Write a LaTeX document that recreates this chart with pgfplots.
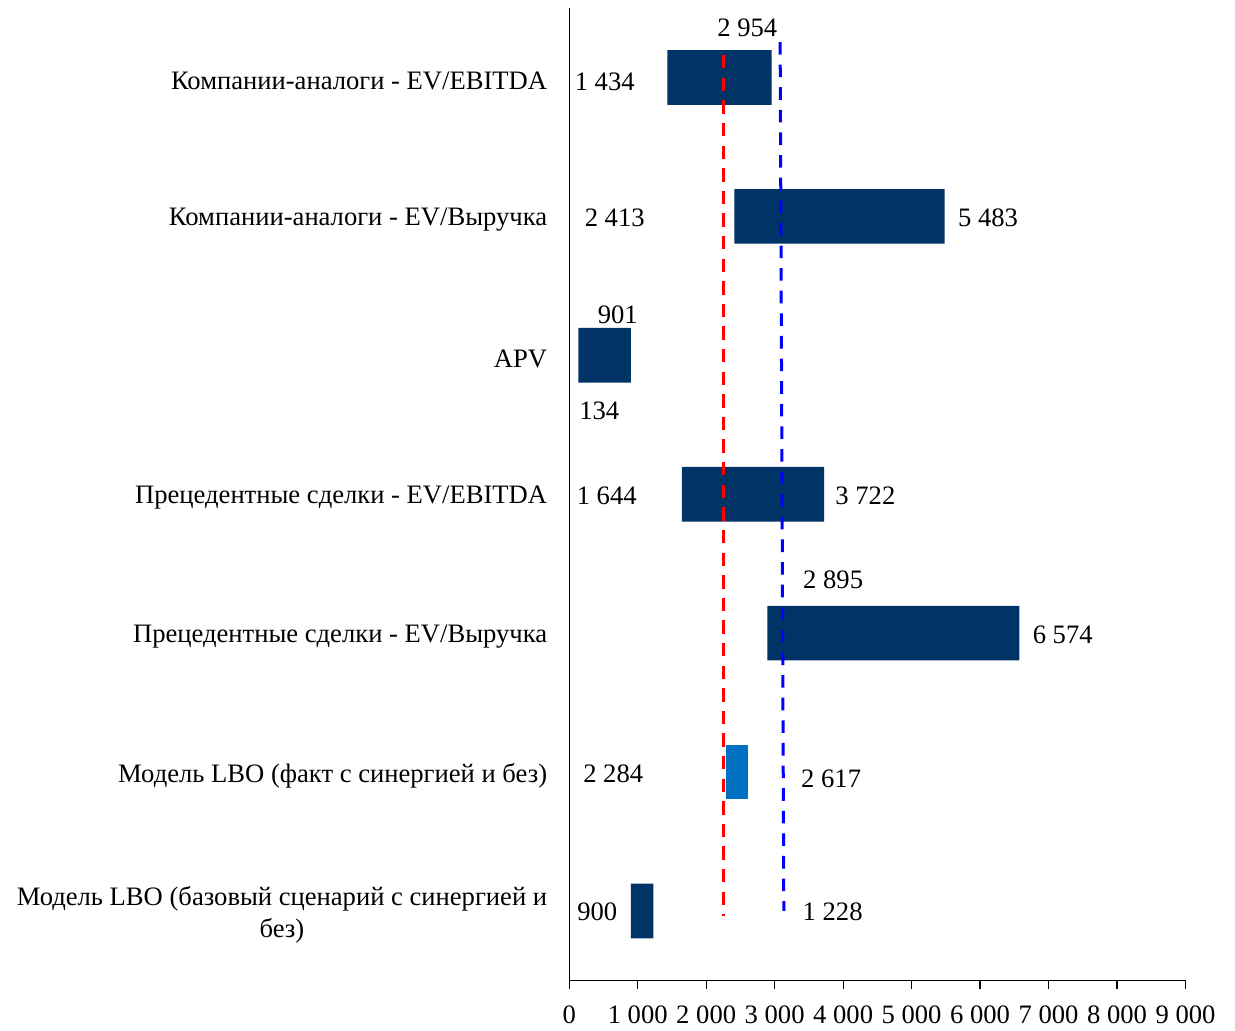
\documentclass[border=0pt]{standalone}
\usepackage{pgfplots}
\pgfplotsset{compat=1.18}
\usepackage{pgfplotstable}
\usepackage{fontspec}
\setmainfont{Liberation Serif}

\newcommand\fs{\fontsize{13.3}{16}\selectfont}

\definecolor{navy}{RGB}{0,51,102}
\definecolor{lbo}{RGB}{0,112,192}

% valuation ranges: y position (top = 6), low, high, flag for the LBO-fact bar
\pgfplotstableread{
y  low   high  lbo
6  1434  2954  0
5  2413  5483  0
4  134   901   0
3  1644  3722  0
2  2895  6574  0
1  2284  2617  1
0  900   1228  0
}\ranges

\begin{document}
\begin{tikzpicture}[lbl/.style={font=\fs, inner sep=0pt}]
\begin{axis}[
  name=ax,
  scale only axis,
  width=308pt, height=486pt,
  xmin=0, xmax=9000, ymin=-0.5, ymax=6.5,
  xbar stacked, bar width=27.35pt,
  axis x line*=bottom, axis y line*=left,
  axis line style={line width=0.6pt, black},
  xtick={0,1000,...,9000},
  tick align=outside, major tick length=4.5pt,
  x tick style={line width=0.6pt, black},
  ytick={0,...,6},
  ytick style={draw=none},
  yticklabels={{Модель LBO (базовый сценарий с синергией и\\без)},
               {Модель LBO (факт с синергией и без)},
               {Прецедентные сделки - EV/Выручка},
               {Прецедентные сделки - EV/EBITDA},
               {APV},
               {Компании-аналоги - EV/Выручка},
               {Компании-аналоги - EV/EBITDA}},
  yticklabel style={font=\fs, align=center, xshift=-3pt, yshift=-1.8pt},
  xticklabel style={font=\fs, yshift=-4.5pt},
  /pgf/number format/assume math mode=true,
  /pgf/number format/1000 sep={\ },
  clip=false,
]
  % invisible offset up to the low end of each range
  \addplot[draw=none, fill=none] table[x=low, y=y] {\ranges};
  % ranges themselves
  \addplot[draw=none, fill=navy] table[x expr={(1-\thisrow{lbo})*(\thisrow{high}-\thisrow{low})}, y=y] {\ranges};
  \addplot[draw=none, fill=lbo] table[x expr={\thisrow{lbo}*(\thisrow{high}-\thisrow{low})}, y=y] {\ranges};

  % value labels
  \node[lbl] at (axis cs:518,5.967) {1 434};
  \node[lbl] at (axis cs:2600,6.359) {2 954};
  \node[lbl] at (axis cs:664,4.988) {2 413};
  \node[lbl, anchor=west] at (axis cs:5673,4.988) {5 483};
  \node[lbl] at (axis cs:708,4.293) {901};
  \node[lbl] at (axis cs:438,3.598) {134};
  \node[lbl] at (axis cs:547,2.986) {1 644};
  \node[lbl, anchor=west] at (axis cs:3882,2.986) {3 722};
  \node[lbl] at (axis cs:3854,2.382) {2 895};
  \node[lbl, anchor=west] at (axis cs:6764,1.986) {6 574};
  \node[lbl] at (axis cs:642,0.985) {2 284};
  \node[lbl] at (axis cs:3825,0.952) {2 617};
  \node[lbl] at (axis cs:409,-0.009) {900};
  \node[lbl] at (axis cs:3847,-0.009) {1 228};
\end{axis}

% reference levels drawn over the bars
\begin{axis}[
  at={(ax.south west)}, anchor=south west,
  scale only axis,
  width=308pt, height=486pt,
  xmin=0, xmax=9000, ymin=-0.5, ymax=6.5,
  hide axis, clip=false,
]
  \addplot[red, line width=1.5pt, dash pattern=on 6.7pt off 4.6pt] coordinates {(2253,6.161) (2253,-0.037)};
  \addplot[blue, line width=1.5pt, dash pattern=on 6.3pt off 5pt] coordinates {(3080,6.255) (3134,0.0)};
\end{axis}

\pgfresetboundingbox
\path[use as bounding box] ([xshift=-284.5pt,yshift=-25pt]ax.south west) rectangle ([xshift=24.75pt,yshift=4pt]ax.north east);
\end{tikzpicture}
\end{document}
